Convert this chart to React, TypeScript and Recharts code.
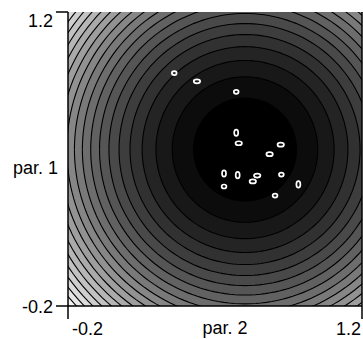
import { ComposedChart, Area, Scatter, XAxis, YAxis, Label } from 'recharts'

// axis range and tick values
const ticks = [-0.2, 1.2]

// centre of the contoured surface (par. 2, par. 1)
const centre = [0.643, 0.545]

// contour levels (squared distance from the centre)
const levels = [
  0.06, 0.12, 0.18, 0.24, 0.3, 0.36, 0.42, 0.48, 0.54, 0.6, 0.66,
  0.72, 0.78, 0.84, 0.9, 0.96, 1.02, 1.08, 1.14, 1.2, 1.26, 1.32,
]

// sampled points
const par2 = [0.306, 0.414, 0.601, 0.601, 0.613, 0.813, 0.76, 0.543, 0.608, 0.68, 0.701, 0.816, 0.897, 0.543, 0.786]
const par1 = [0.909, 0.87, 0.82, 0.625, 0.575, 0.568, 0.523, 0.431, 0.423, 0.393, 0.421, 0.426, 0.379, 0.369, 0.326]
const spread = ['o', 'h', 'o', 'v', 'h', 'h', 'h', 'v', 'v', 'h', 'h', 'o', 'v', 'o', 'o']

const points = par2.map((x, i) => ({ x, y: par1[i], spread: spread[i] }))

const font = 'Liberation Sans, Arial, sans-serif'
const size = 18

function ring(level: number) {
  const r = Math.sqrt(level)
  const out = []
  for (let i = 0; i <= 90; i++) {
    const a = Math.PI - (i * Math.PI) / 90
    const dy = r * Math.sin(a)
    out.push({ x: centre[0] + r * Math.cos(a), band: [centre[1] - dy, centre[1] + dy] })
  }
  return out
}

function shade(i: number) {
  const v = Math.min(255, Math.round((255 * i) / 21))
  return `rgb(${v},${v},${v})`
}

function XTick({ x, y, payload, index }: any) {
  const first = index === 0
  return (
    <text x={first ? x + 4 : x - 1} y={y + 16} textAnchor={first ? 'start' : 'end'} fontSize={size} fontFamily={font} fill="#000">
      {payload.value}
    </text>
  )
}

function YTick({ x, y, payload, index }: any) {
  return (
    <text x={x - 3} y={index === 0 ? y + 7 : y + 15} textAnchor="end" fontSize={size} fontFamily={font} fill="#000">
      {payload.value}
    </text>
  )
}

function Ellipse({ cx, cy, payload }: any) {
  let rx = 3.2
  let ry = 2
  if (payload.spread === 'v') {
    rx = 2
    ry = 3.2
  } else if (payload.spread === 'o') {
    rx = 2.4
    ry = 2
  }
  return <ellipse cx={cx} cy={cy} rx={rx} ry={ry} fill="none" stroke="#fff" strokeWidth={1.7} />
}

export default function App() {
  return (
    <>
      <style>{'body{margin:0}'}</style>
      <ComposedChart width={363} height={339} margin={{ top: 12, right: 0, bottom: 0, left: 0 }}>
        <XAxis
          type="number"
          dataKey="x"
          domain={[-0.2, 1.2]}
          ticks={ticks}
          interval={0}
          allowDataOverflow
          height={33}
          tickSize={13}
          tickMargin={0}
          axisLine={{ stroke: '#000', strokeWidth: 1.5 }}
          tickLine={{ stroke: '#000', strokeWidth: 1.5 }}
          tick={<XTick />}
        >
          <Label
            content={({ viewBox }: any) => (
              <text x={viewBox.x + viewBox.width / 2 + 10} y={viewBox.y + 28} textAnchor="middle" fontSize={size} fontFamily={font} fill="#000">
                par. 2
              </text>
            )}
          />
        </XAxis>
        <YAxis
          type="number"
          domain={[-0.2, 1.2]}
          ticks={ticks}
          interval={0}
          allowDataOverflow
          width={68}
          tickSize={12}
          tickMargin={0}
          axisLine={{ stroke: '#000', strokeWidth: 1.5 }}
          tickLine={{ stroke: '#000', strokeWidth: 1.5 }}
          tick={<YTick />}
        >
          <Label
            content={({ viewBox }: any) => (
              <text x={viewBox.x + 58} y={viewBox.y + viewBox.height / 2 + 15} textAnchor="end" fontSize={size} fontFamily={font} fill="#000">
                par. 1
              </text>
            )}
          />
        </YAxis>
        <XAxis xAxisId="top" orientation="top" type="number" domain={[-0.2, 1.2]} height={0} tick={false} tickLine={false} axisLine={{ stroke: '#000', strokeWidth: 1.5 }} />
        <YAxis yAxisId="right" orientation="right" type="number" domain={[-0.2, 1.2]} width={1} tick={false} tickLine={false} axisLine={{ stroke: '#000', strokeWidth: 1.5 }} />
        {levels
          .map((level, i) => (
            <Area
              key={level}
              data={ring(level)}
              dataKey="band"
              type="linear"
              fill={shade(i)}
              fillOpacity={1}
              stroke="#000"
              strokeWidth={1.1}
              dot={false}
              activeDot={false}
              isAnimationActive={false}
            />
          ))
          .reverse()}
        <Scatter data={points} dataKey="y" shape={<Ellipse />} isAnimationActive={false} />
      </ComposedChart>
    </>
  )
}
